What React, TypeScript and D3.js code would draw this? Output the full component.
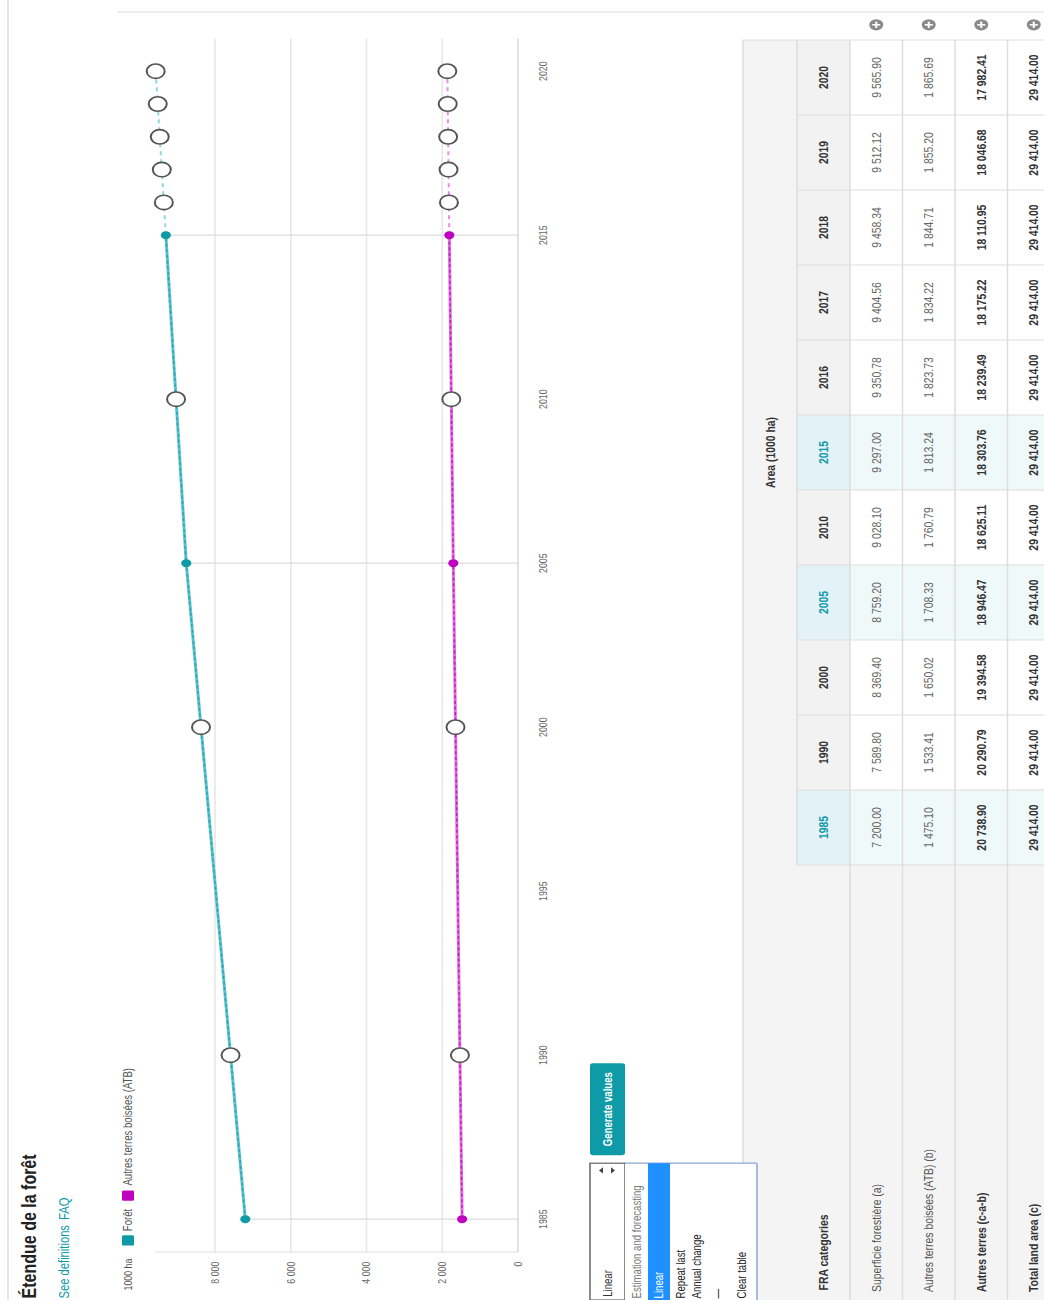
import React from "react";
import * as d3 from "d3";

const years = [1985, 1990, 2000, 2005, 2010, 2015, 2016, 2017, 2018, 2019, 2020];
const dataYears = [1985, 2005, 2015];
const foret = [7200.0, 7589.8, 8369.4, 8759.2, 9028.1, 9297.0, 9350.78, 9404.56, 9458.34, 9512.12, 9565.9];
const atb = [1475.1, 1533.41, 1650.02, 1708.33, 1760.79, 1813.24, 1823.73, 1834.22, 1844.71, 1855.2, 1865.69];
const autres = [20738.9, 20290.79, 19394.58, 18946.47, 18625.11, 18303.76, 18239.49, 18175.22, 18110.95, 18046.68, 17982.41];
const total = [29414, 29414, 29414, 29414, 29414, 29414, 29414, 29414, 29414, 29414, 29414];
const yearTicks = [1985, 1990, 1995, 2000, 2005, 2010, 2015, 2020];
const valueTicks = [0, 2000, 4000, 6000, 8000];
const rowLabels = ["Superficie forestière (a)", "Autres terres boisées (ATB) (b)", "Autres terres (c-a-b)", "Total land area (c)"];
const rowBold = [false, false, true, true];
const menuItems = ["Estimation and forecasting", "Linear", "Repeat last", "Annual change", "—", "Clear table"];

const FONT = "'Liberation Sans', Arial, sans-serif";
const TEAL = "#0e9aa7";
const MAG = "#c000c0";

const fmtNum = (v: number) => d3.format(",.2f")(v).replace(/,/g, " ");
const fmtTick = (v: number) => d3.format(",")(v).replace(/,/g, " ");

export default function App() {
  const x = d3.scaleLinear().domain([1985, 2020]).range([101, 1536]);
  const y = d3.scaleLinear().domain([0, 8000]).range([518, 215]);
  const plotL = 60, plotR = 1577, plotT = 155;

  const line = d3.line<[number, number]>().x(d => x(d[0])).y(d => y(d[1]));
  const mk = (vals: number[]) => years.map((yr, i) => [yr, vals[i]] as [number, number]);
  const fPts = mk(foret), aPts = mk(atb);
  const solidF = fPts.filter(p => p[0] <= 2015), dashF = fPts.filter(p => p[0] >= 2015);
  const solidA = aPts.filter(p => p[0] <= 2015), dashA = aPts.filter(p => p[0] >= 2015);

  const labelW = 543.75, colW = (1575 - 543.75) / years.length;
  const h1T = 743, h2T = 797, rowT = 850, rowH = 52.5;
  const colX = (i: number) => labelW + i * colW;

  return (
    <svg width={1044} height={1300} style={{ position: "absolute", left: 0, top: 0, background: "#fff" }} fontFamily={FONT}>
      <g transform="translate(0,1300) rotate(-90) scale(0.8,1)">
        <line x1={0} x2={1625} y1={8} y2={8} stroke="#ddd" strokeWidth={1.5} />
        <line x1={1610} x2={1610} y1={118} y2={1044} stroke="#ddd" strokeWidth={1.5} />

        <text x={2} y={36} fontSize={20} fontWeight="bold" fill="#222">Étendue de la forêt</text>
        <text x={2} y={69} fontSize={14} fill={TEAL}>See definitions</text>
        <text x={100} y={69} fontSize={14} fill={TEAL}>FAQ</text>

        <text x={12} y={132} fontSize={11} fill="#555">1000 ha</text>
        <rect x={68} y={122} width={13} height={12} rx={1.5} fill={TEAL} />
        <text x={86} y={132} fontSize={12} fill="#555">Forêt</text>
        <rect x={124} y={122} width={13} height={12} rx={1.5} fill={MAG} />
        <text x={143} y={132} fontSize={12} fill="#555">Autres terres boisées (ATB)</text>

        {valueTicks.filter(v => v > 0).map(v => (
          <line key={v} x1={plotL} x2={plotR} y1={y(v)} y2={y(v)} stroke="#e6e6e6" strokeWidth={1.5} />
        ))}
        <line x1={plotL} x2={plotL} y1={plotT} y2={y(0)} stroke="#e0e0e0" strokeWidth={1.5} />
        <line x1={plotL} x2={plotR} y1={y(0)} y2={y(0)} stroke="#d8d8d8" strokeWidth={1.5} />
        {valueTicks.map(v => (
          <text key={v} x={48} y={y(v)} dy="0.35em" textAnchor="end" fontSize={11} fill="#666">{fmtTick(v)}</text>
        ))}
        {yearTicks.map(t => (
          <text key={t} x={x(t)} y={543} dy="0.35em" textAnchor="middle" fontSize={11} fill="#666">{t}</text>
        ))}
        {dataYears.map(yr => (
          <line key={yr} x1={x(yr)} x2={x(yr)} y1={y(foret[years.indexOf(yr)])} y2={y(0)} stroke="#dcdcdc" strokeWidth={1.5} />
        ))}

        <path d={line(solidF) || ""} fill="none" stroke="#5cc4cc" strokeWidth={3} />
        <path d={line(solidF) || ""} fill="none" stroke="#2aa7b2" strokeWidth={1.5} strokeDasharray="4 3" />
        <path d={line(dashF) || ""} fill="none" stroke="#90d6dd" strokeWidth={2} strokeDasharray="5 5" />
        <path d={line(solidA) || ""} fill="none" stroke="#e070e0" strokeWidth={3} />
        <path d={line(solidA) || ""} fill="none" stroke="#c020c0" strokeWidth={1.5} strokeDasharray="4 3" />
        <path d={line(dashA) || ""} fill="none" stroke="#e88ce8" strokeWidth={2} strokeDasharray="5 5" />

        {[{ pts: fPts, c: TEAL }, { pts: aPts, c: MAG }].map((s, si) =>
          s.pts.map(p =>
            dataYears.includes(p[0]) ? (
              <circle key={si + "-" + p[0]} cx={x(p[0])} cy={y(p[1])} r={5} fill={s.c} />
            ) : (
              <circle key={si + "-" + p[0]} cx={x(p[0])} cy={y(p[1])} r={9} fill="#fff" stroke="#555" strokeWidth={2} />
            )
          )
        )}

        <rect x={0} y={h1T} width={1575} height={rowT - h1T} fill="#f4f4f4" />
        <rect x={0} y={rowT} width={labelW} height={rowH * 4 + 20} fill="#f4f4f4" />
        {years.map((yr, i) => {
          const hl = dataYears.includes(yr);
          return (
            <g key={yr}>
              <rect x={colX(i)} y={h2T} width={colW} height={rowT - h2T} fill={hl ? "#e3f2f7" : "#f2f2f2"} />
              <rect x={colX(i)} y={rowT} width={colW} height={rowH * 4 + 20} fill={hl ? "#f0f9fa" : "#fff"} />
              <text x={colX(i) + colW / 2} y={(h2T + rowT) / 2} dy="0.35em" textAnchor="middle" fontSize={13} fontWeight="bold" fill={hl ? TEAL : "#333"}>{yr}</text>
            </g>
          );
        })}
        <text x={(labelW + 1575) / 2} y={(h1T + h2T) / 2} dy="0.35em" textAnchor="middle" fontSize={13} fontWeight="bold" fill="#333">Area (1000 ha)</text>
        <text x={12} y={(h2T + rowT) / 2} dy="0.35em" fontSize={13} fontWeight="bold" fill="#333">FRA categories</text>
        <line x1={0} x2={1575} y1={h1T} y2={h1T} stroke="#ddd" strokeWidth={1.5} />
        <line x1={labelW} x2={1575} y1={h2T} y2={h2T} stroke="#ddd" strokeWidth={1.5} />
        {[0, 1, 2, 3, 4].map(r => (
          <line key={r} x1={0} x2={1575} y1={rowT + r * rowH} y2={rowT + r * rowH} stroke="#ddd" strokeWidth={1.5} />
        ))}
        {years.map((yr, i) => (
          <line key={yr} x1={colX(i)} x2={colX(i)} y1={h2T} y2={1044} stroke="#ddd" strokeWidth={1.5} />
        ))}
        <line x1={1575} x2={1575} y1={h1T} y2={1044} stroke="#ddd" strokeWidth={1.5} />
        {[foret, atb, autres, total].map((vals, r) => (
          <g key={r}>
            <text x={10} y={rowT + r * rowH + rowH / 2} dy="0.35em" fontSize={13} fontWeight={rowBold[r] ? "bold" : "normal"} fill={rowBold[r] ? "#333" : "#555"}>{rowLabels[r]}</text>
            {vals.map((v, i) => (
              <text key={i} x={colX(i) + colW / 2} y={rowT + r * rowH + rowH / 2} dy="0.35em" textAnchor="middle" fontSize={13} fontWeight={rowBold[r] ? "bold" : "normal"} fill={rowBold[r] ? "#333" : "#666"}>{fmtNum(v)}</text>
            ))}
            <circle cx={1594} cy={rowT + r * rowH + rowH / 2} r={7} fill="#8a8a8a" />
            <line x1={1590} x2={1598} y1={rowT + r * rowH + rowH / 2} y2={rowT + r * rowH + rowH / 2} stroke="#fff" strokeWidth={2} />
            <line x1={1594} x2={1594} y1={rowT + r * rowH + rowH / 2 - 4} y2={rowT + r * rowH + rowH / 2 + 4} stroke="#fff" strokeWidth={2} />
          </g>
        ))}

        <rect x={0} y={590} width={171} height={35} fill="#fff" stroke="#666" strokeWidth={1.5} />
        <text x={4} y={607.5} dy="0.35em" fontSize={12} fill="#333">Linear</text>
        <path d="M158,603 l4,-4 l4,4 z M158,611 l4,4 l4,-4 z" fill="#444" />
        <rect x={0} y={625} width={171} height={132} fill="#fff" />
        <line x1={171} x2={171} y1={625} y2={757} stroke="#8aa6d6" strokeWidth={1.5} />
        <line x1={0} x2={171} y1={757} y2={757} stroke="#8aa6d6" strokeWidth={1.5} />
        <rect x={0} y={648} width={171} height={22} fill="#1e90ff" />
        {menuItems.map((m, i) => {
          const cy = [637, 659, 681, 697, 718, 742][i];
          return (
            <text key={i} x={2} y={cy} dy="0.35em" fontSize={12} fill={i === 1 ? "#fff" : i === 0 ? "#777" : "#222"}>{m}</text>
          );
        })}
        <rect x={181} y={590} width={115} height={35} rx={3} fill={TEAL} />
        <text x={238.5} y={607.5} dy="0.35em" textAnchor="middle" fontSize={12} fontWeight="bold" fill="#fff">Generate values</text>
      </g>
    </svg>
  );
}
